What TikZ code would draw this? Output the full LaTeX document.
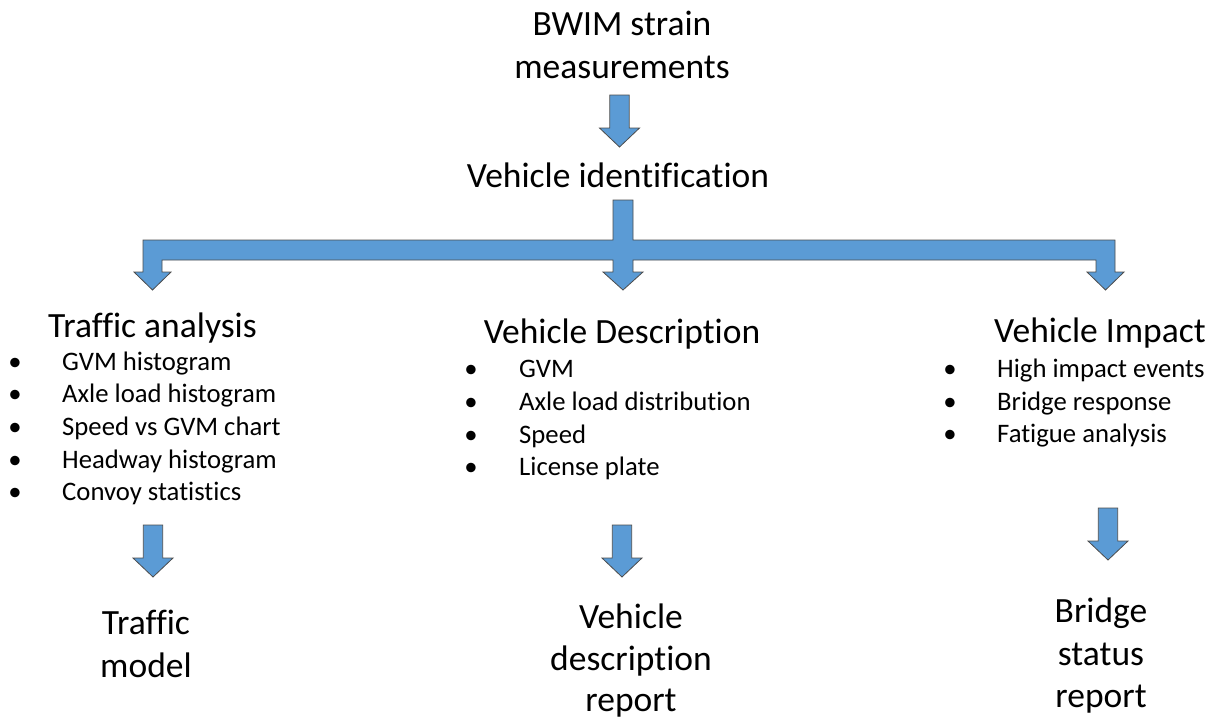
\documentclass[tikz,border=0pt]{standalone}
\usepackage{fontspec}
\setmainfont{Carlito}[RawFeature={-liga;-clig;-dlig}]
\begin{document}
\begin{tikzpicture}[x=1pt,y=-1pt,
  blockarrow/.style={fill=arrowblue,draw=black!70,line width=0.8pt,line join=miter},
  big/.style={font=\fontsize{35.5}{43}\selectfont,inner sep=0pt,anchor=base,text=black},
  item/.style={font=\fontsize{26.7}{32}\selectfont,inner sep=0pt,anchor=base west,text=black},
  bul/.style={font=\fontsize{26.7}{32}\selectfont,inner sep=0pt,anchor=base,text=black},
  dnarrow/.pic={\draw[blockarrow] (-9.7,0) -- (9.7,0) -- (9.7,33) -- (20,33) -- (0,52) -- (-20,33) -- (-9.7,33) -- cycle;}
]
\definecolor{arrowblue}{HTML}{5B9BD5}
\useasboundingbox (0,0) rectangle (1212,721);

% title
\node[big] (t1) at (622,35) {BWIM strain};
\node[big] (t2) at (622,78) {measurements};
\pic (a1) at (619.5,95) {dnarrow};
\node[big] (vid) at (618,187) {Vehicle identification};

% branching arrow
\draw[blockarrow] (613,200) -- (633,200) -- (633,240) -- (1115,240) -- (1115,272) -- (1124,272)
  -- (1105.5,290) -- (1087,272) -- (1096,272) -- (1096,260) -- (633,260) -- (633,272) -- (643,272)
  -- (623,290) -- (603,272) -- (613,272) -- (613,260) -- (162,260) -- (162,272) -- (171,272)
  -- (152.5,290) -- (134,272) -- (143,272) -- (143,240) -- (613,240) -- cycle;

% left column
\node[big] (ta) at (152.5,337) {Traffic analysis};
\foreach \y/\t [count=\i] in {370/GVM histogram,402/Axle load histogram,435/Speed vs GVM chart,468/Headway histogram,500/Convoy statistics}{
  \node[bul] (lb\i) at (15,\y) {•};
  \node[item] (li\i) at (62,\y) {\t};
}
\pic (a2) at (153,525) {dnarrow};
\node[big] (tm1) at (146,634) {Traffic};
\node[big] (tm2) at (146,677) {model};

% middle column
\node[big] (vd) at (622,343) {Vehicle Description};
\foreach \y/\t [count=\i] in {377/GVM,410/Axle load distribution,443/Speed,475/License plate}{
  \node[bul] (mb\i) at (471,\y) {•};
  \node[item] (mi\i) at (519,\y) {\t};
}
\pic (a3) at (622,525) {dnarrow};
\node[big] (vr1) at (631,628) {Vehicle};
\node[big] (vr2) at (631,670) {description};
\node[big] (vr3) at (631,711) {report};

% right column
\node[big] (vi) at (1100,342) {Vehicle Impact};
\foreach \y/\t [count=\i] in {377/High impact events,410/Bridge response,442/Fatigue analysis}{
  \node[bul] (rb\i) at (950,\y) {•};
  \node[item] (ri\i) at (997,\y) {\t};
}
\pic (a4) at (1108,508) {dnarrow};
\node[big] (bs1) at (1101,622) {Bridge};
\node[big] (bs2) at (1101,665) {status};
\node[big] (bs3) at (1101,707) {report};
\end{tikzpicture}
\end{document}
